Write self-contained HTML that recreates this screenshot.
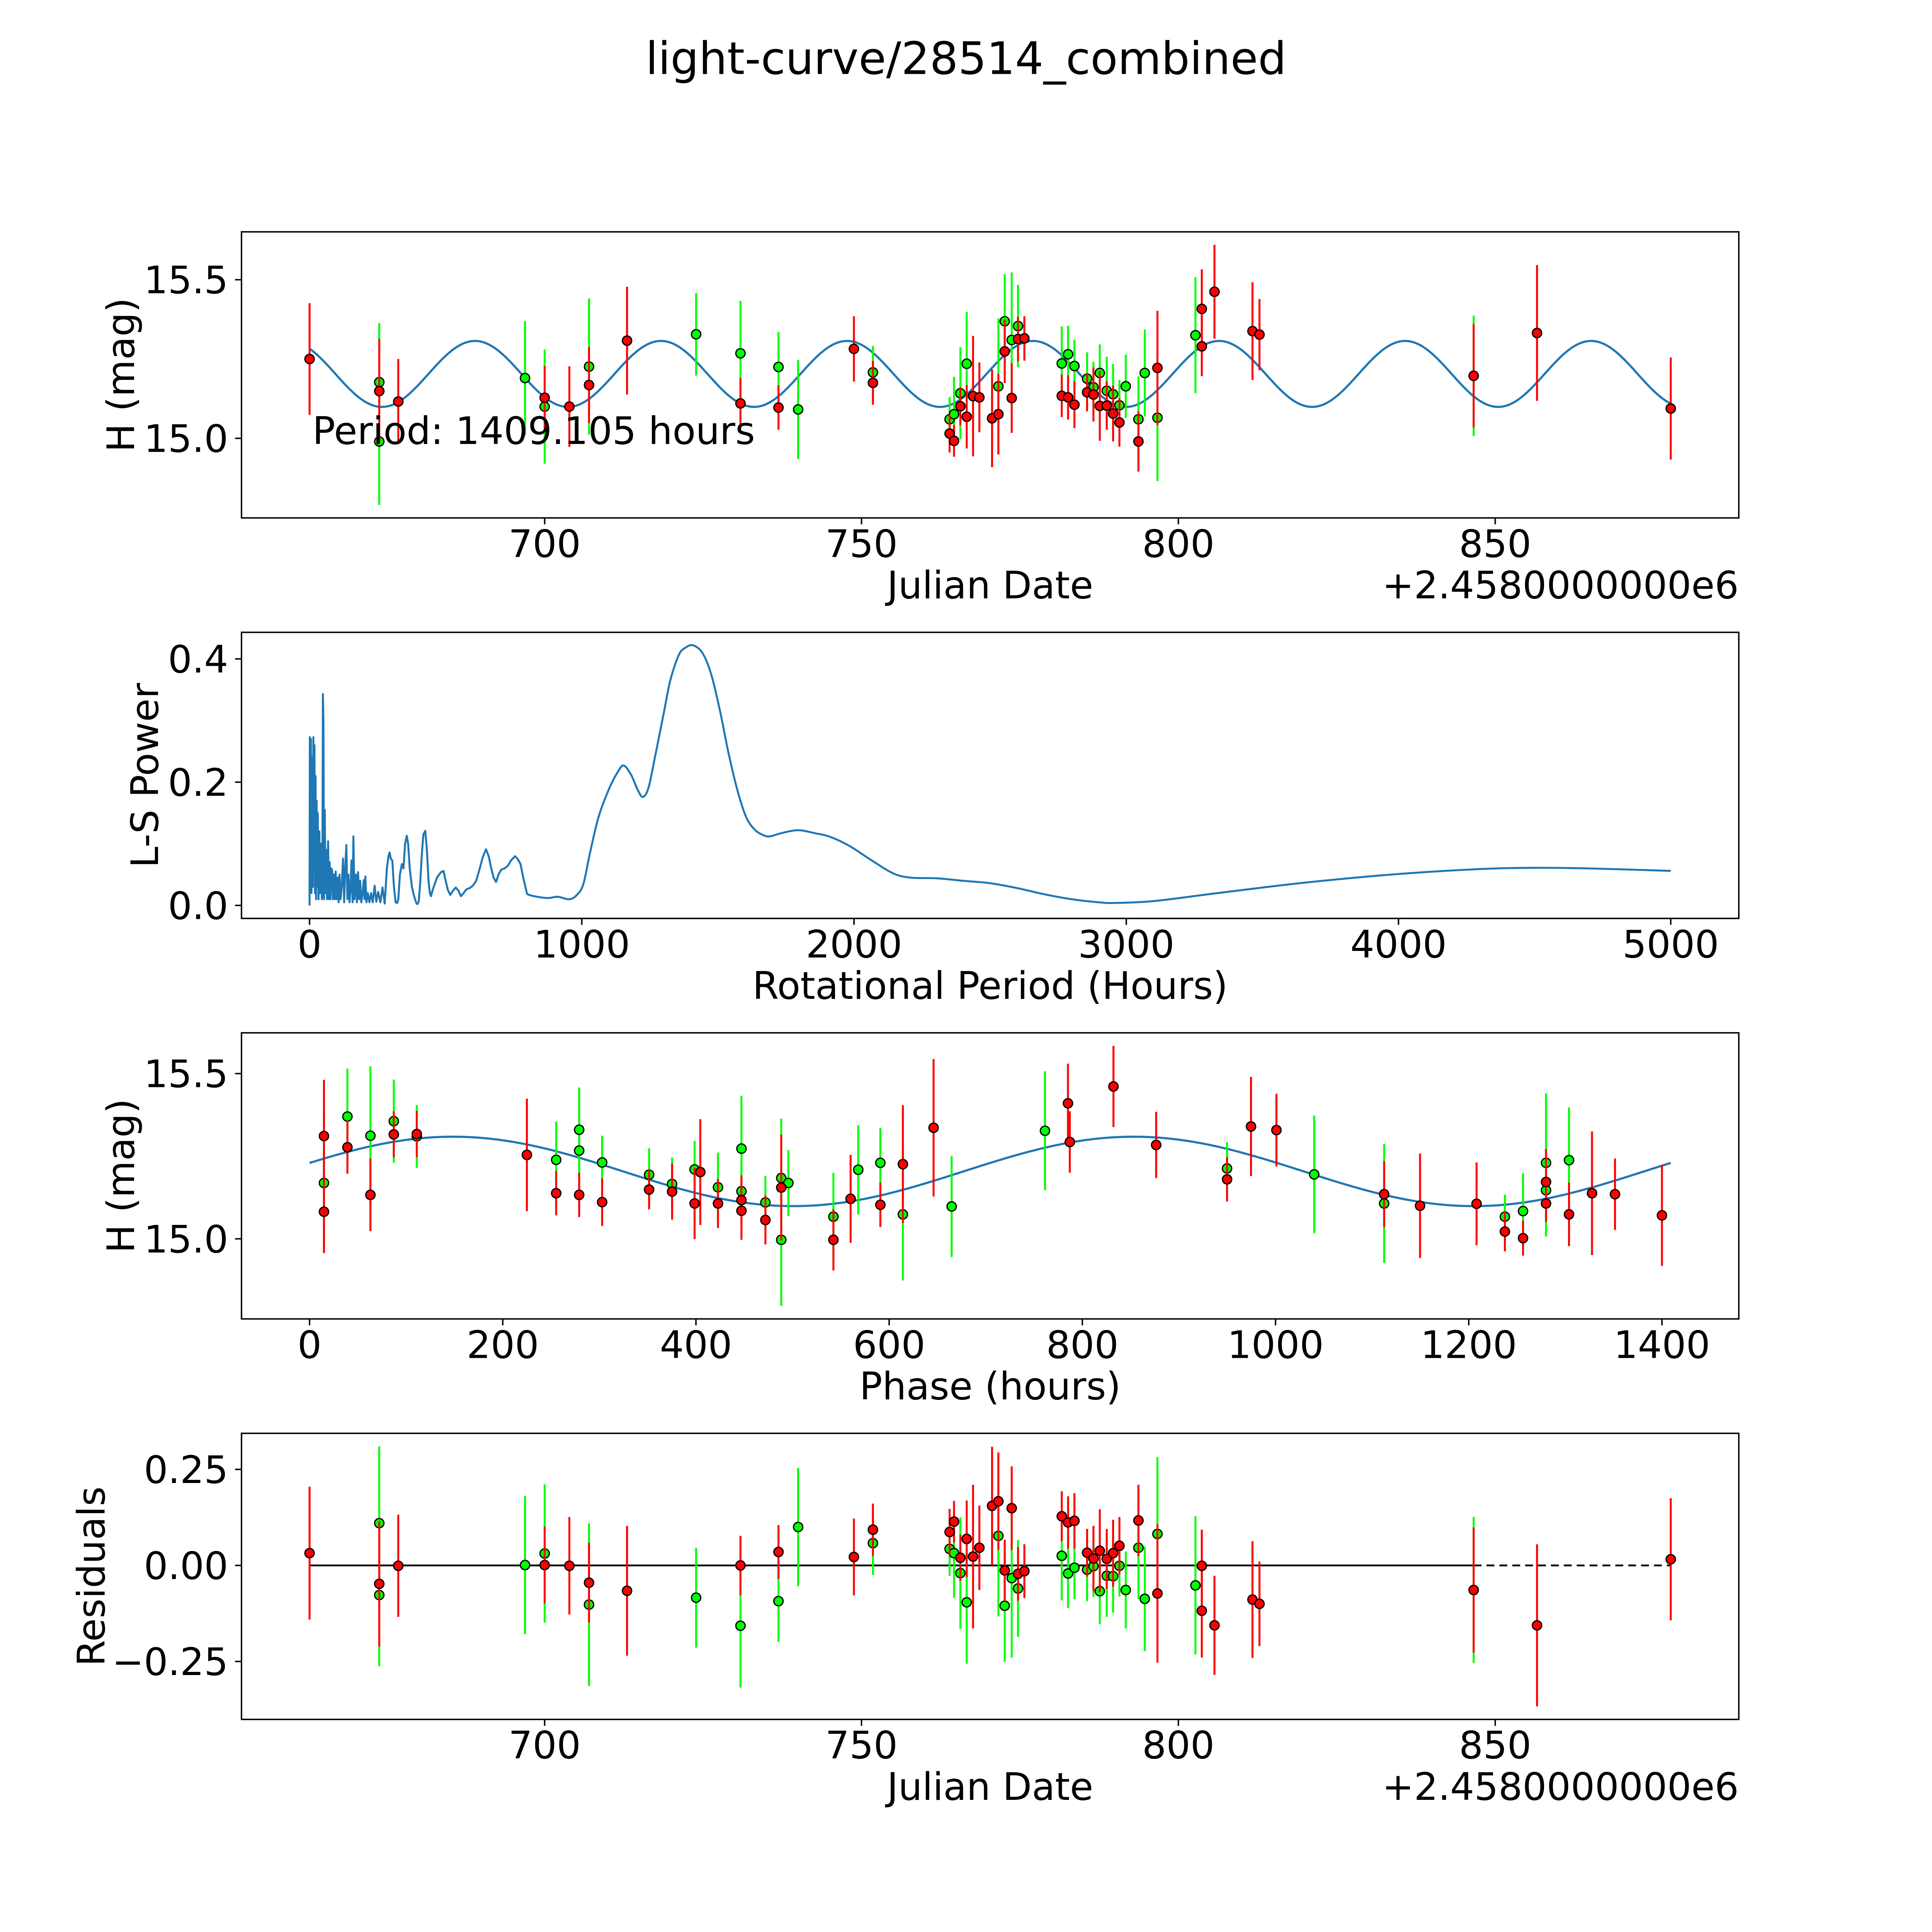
<!DOCTYPE html>
<html><head><meta charset="utf-8"><title>light-curve/28514_combined</title>
<style>
html,body{margin:0;padding:0;background:#fff;overflow:hidden;width:100vw;height:100vh;}
svg{display:block;position:fixed;left:0;top:0;width:100vw;height:100vh;}
text{font-family:"DejaVu Sans","Liberation Sans",sans-serif;fill:#000;}
</style></head>
<body>
<svg id="fig" xmlns="http://www.w3.org/2000/svg" viewBox="0 0 5400 5400" preserveAspectRatio="none">
<rect x="0" y="0" width="5400" height="5400" fill="#fff"/>
<text x="2700" y="207" font-size="125" text-anchor="middle">light-curve/28514_combined</text>
</svg>
<script>
// ---------- observation data (panels 1 & 4) ----------
const obsDate = [662.9,673.9,673.9,673.9,676.9,696.9,700.0,700.0,703.9,707.0,
707.0,713.0,723.9,730.9,730.9,736.9,736.9,740.0,748.8,751.8,
751.8,763.9,763.9,764.6,764.6,765.6,765.6,766.6,766.6,767.6,
768.6,770.6,771.6,771.6,772.6,772.6,773.7,773.7,774.7,774.7,
775.7,781.6,781.6,782.6,782.6,783.6,783.6,785.6,785.6,786.6,
786.6,787.6,787.6,788.7,788.7,789.7,789.7,790.7,790.7,791.7,
793.7,793.7,794.7,796.7,796.7,802.7,803.7,803.7,805.7,811.7,
812.8,846.6,846.6,856.6,877.7];
const obsMag = [15.25,15.177,15.149,14.99,15.116,15.19,15.128,15.10,15.10,15.226,
15.168,15.308,15.328,15.268,15.11,15.225,15.097,15.091,15.282,15.208,
15.175,15.06,15.015,15.076,14.992,15.142,15.101,15.235,15.068,15.133,
15.129,15.063,15.164,15.076,15.369,15.274,15.31,15.127,15.354,15.313,
15.315,15.236,15.134,15.265,15.129,15.228,15.106,15.188,15.145,15.161,
15.138,15.206,15.102,15.15,15.103,15.139,15.078,15.104,15.05,15.164,
15.06,14.99,15.206,15.065,15.222,15.325,15.408,15.29,15.462,15.338,
15.327,15.197,15.197,15.332,15.094];
const obsErr = [0.176,0.186,0.164,0.2,0.134,0.18,0.10,0.18,0.127,0.215,
0.12,0.17,0.13,0.165,0.08,0.11,0.07,0.156,0.103,0.083,
0.069,0.07,0.06,0.118,0.05,0.145,0.06,0.163,0.1,0.19,
0.11,0.154,0.214,0.127,0.148,0.1,0.213,0.11,0.13,0.07,
0.07,0.117,0.067,0.09,0.07,0.083,0.074,0.083,0.06,0.08,
0.085,0.09,0.11,0.107,0.076,0.095,0.088,0.08,0.076,0.1,
0.135,0.095,0.137,0.2,0.18,0.183,0.125,0.094,0.148,0.154,
0.112,0.19,0.163,0.214,0.161];
const obsBand = ["r","g","r","g","r","g","r","g","r","g",
"r","r","g","g","r","g","r","g","r","g",
"r","g","r","g","r","g","r","g","r","r",
"r","r","g","r","g","r","g","r","g","r",
"r","g","r","g","r","g","r","g","r","g",
"r","g","r","g","r","g","r","g","r","g",
"g","r","g","g","r","g","r","r","r","r",
"r","g","r","r","r"];
const residVal = [0.032,0.11,-0.048,-0.077,-0.001,0.001,0.001,0.031,-0.001,-0.102,
-0.045,-0.066,-0.084,-0.157,0.0,-0.093,0.035,0.1,0.022,0.058,
0.093,0.043,0.087,0.032,0.114,-0.02,0.02,-0.096,0.069,0.023,
0.046,0.155,0.077,0.167,-0.105,-0.013,-0.033,0.149,-0.06,-0.022,
-0.015,0.025,0.128,-0.021,0.112,-0.006,0.116,-0.011,0.033,-0.002,
0.018,-0.067,0.038,-0.027,0.017,-0.028,0.032,-0.001,0.051,-0.064,
0.046,0.117,-0.087,0.082,-0.073,-0.052,-0.118,-0.001,-0.156,-0.089,
-0.1,-0.064,-0.064,-0.156,0.016];
const residErr = [0.173,0.2,0.163,0.185,0.133,0.18,0.1,0.18,0.127,0.212,
0.104,0.169,0.13,0.161,0.077,0.106,0.07,0.154,0.1,0.083,
0.068,0.07,0.06,0.116,0.054,0.145,0.06,0.16,0.1,0.187,
0.11,0.154,0.21,0.127,0.146,0.08,0.207,0.109,0.126,0.07,
0.07,0.116,0.065,0.09,0.068,0.082,0.072,0.082,0.062,0.08,
0.085,0.086,0.108,0.107,0.078,0.095,0.087,0.08,0.075,0.1,
0.133,0.093,0.136,0.2,0.18,0.18,0.122,0.094,0.129,0.152,
0.11,0.19,0.163,0.211,0.159];
const residSolidEnd = 846.6;

// ---------- phase-folded data (panel 3) ----------
const phaseHours = [14.9,14.9,14.9,39.2,39.2,63,63,87.2,87.2,111,
111,225,255.3,255.3,279.1,279.1,279.1,302.9,302.9,351.5,
351.5,375.3,375.3,398.6,398.6,404.5,422.8,422.8,447.1,447.1,
447.1,447.1,471.9,471.9,488.3,488.3,488.3,495.7,542.3,542.3,
560.1,568,590.9,590.9,614.2,614.2,646,664.7,761.3,785.1,
787,832.2,876.4,949.8,949.8,974.6,1000.9,1040,1112.4,1112.4,
1149.6,1208.1,1237.4,1237.4,1256.2,1256.2,1280,1280,1280,1280,
1303.8,1303.8,1327.6,1351.4,1400];
const phaseMag = [15.311,15.169,15.082,15.37,15.277,15.312,15.133,15.356,15.316,15.31,
15.317,15.254,15.239,15.138,15.33,15.267,15.133,15.231,15.111,15.194,
15.149,15.166,15.143,15.21,15.107,15.202,15.156,15.107,15.273,15.144,
15.117,15.085,15.11,15.057,15.184,15.155,14.997,15.169,15.067,14.997,
15.121,15.209,15.23,15.103,15.226,15.074,15.336,15.098,15.327,15.41,
15.293,15.461,15.284,15.213,15.18,15.34,15.329,15.195,15.135,15.107,
15.1,15.106,15.067,15.022,15.084,15.002,15.23,15.172,15.147,15.107,
15.238,15.074,15.138,15.135,15.071];
const phaseErr = [0.17,0.21,0.125,0.145,0.08,0.21,0.11,0.126,0.07,0.095,
0.07,0.17,0.116,0.067,0.128,0.09,0.067,0.081,0.072,0.08,
0.06,0.08,0.085,0.086,0.108,0.16,0.105,0.074,0.16,0.09,
0.075,0.088,0.08,0.074,0.18,0.16,0.2,0.1,0.133,0.093,
0.133,0.135,0.106,0.067,0.178,0.2,0.208,0.153,0.18,0.12,
0.093,0.123,0.1,0.08,0.067,0.15,0.11,0.178,0.1,0.18,
0.158,0.125,0.067,0.06,0.115,0.053,0.21,0.1,0.14,0.056,
0.16,0.096,0.187,0.108,0.153];
const phaseBand = ["r","g","r","g","r","g","r","g","r","g",
"r","r","g","r","g","g","r","g","r","g",
"r","g","r","g","r","r","g","r","g","g",
"r","r","g","r","g","r","g","g","g","r",
"r","g","g","r","r","g","r","g","g","r",
"r","r","r","g","r","r","r","g","r","g",
"r","r","g","r","g","r","g","r","g","r",
"g","r","r","r","r"];

// ---------- fitted model parameters ----------
const periodHours = 1409.105;
const fitMean = [15.203, 15.204];
const fitAmp = [0.104, 0.105];
const fitPeakDate = 689.0;
const fitPeakPhase = 148.5;

// ---------- Lomb-Scargle periodogram (panel 2) ----------
const lsPeriod = [0,1,3,5,7,10,12,14,16,18,
20,22,24,26,28,30,33,36,39,42,
45,47,49,51,53,56,58,61,64,68,
71,74,77,80,83,86,90,93,96,100,
104,107,110,114,118,123,127,131,135,139,
143,147,151,154,158,161,165,170,174,178,
182,186,190,195,199,202,205,209,214,220,
226,232,239,245,252,260,268,276,284,290,
294,299,304,310,316,322,326,332,339,345,
351,357,362,368,376,384,392,396,401,407,
412,418,425,431,437,442,446,452,460,468,
476,483,492,500,508,517,527,537,547,556,
566,576,588,600,612,624,636,648,658,667,
676,685,694,704,716,728,740,755,765,775,
785,796,807,871,911,954,982,1006,1030,1062,
1102,1133,1154,1181,1205,1224,1245,1269,1301,1325,
1356,1380,1409,1444,1476,1508,1539,1571,1603,1635,
1667,1691,1731,1794,1858,1914,1985,2065,2144,2208,
2304,2399,2500,2600,2700,2800,2900,2960,3100,3300,
3500,3700,4000,4300,4500,4700,5000];
const lsPower = [0,0.273,0.05,0.27,0.02,0.24,0.03,0.273,0.10,0.26,
0.02,0.21,0.01,0.17,0.03,0.15,0.01,0.12,0.02,0.10,
0.01,0.02,0.343,0.30,0.01,0.155,0.02,0.09,0.01,0.104,
0.01,0.07,0.01,0.06,0.057,0.01,0.05,0.01,0.055,0.01,
0.045,0.005,0.05,0.01,0.03,0.076,0.005,0.06,0.098,0.01,
0.05,0.005,0.03,0.073,0.005,0.112,0.01,0.05,0.005,0.054,
0.01,0.04,0.005,0.02,0.041,0.01,0.047,0.005,0.02,0.005,
0.02,0.005,0.032,0.006,0.022,0.005,0.029,0.003,0.06,0.08,
0.086,0.075,0.073,0.03,0.005,0.004,0.01,0.05,0.067,0.06,
0.10,0.113,0.10,0.06,0.03,0.015,0.004,0.002,0.006,0.04,
0.08,0.115,0.121,0.09,0.04,0.02,0.015,0.025,0.035,0.045,
0.05,0.054,0.056,0.04,0.025,0.017,0.024,0.029,0.024,0.015,
0.02,0.026,0.028,0.032,0.04,0.058,0.078,0.091,0.08,0.061,
0.045,0.038,0.05,0.058,0.06,0.064,0.073,0.08,0.075,0.067,
0.045,0.024,0.017,0.012,0.014,0.010,0.017,0.035,0.085,0.144,
0.191,0.217,0.227,0.212,0.188,0.176,0.191,0.241,0.312,0.365,
0.406,0.418,0.422,0.409,0.374,0.315,0.247,0.188,0.144,0.123,
0.114,0.112,0.117,0.122,0.117,0.111,0.096,0.073,0.052,0.045,
0.044,0.040,0.036,0.028,0.018,0.010,0.005,0.004,0.007,0.018,
0.029,0.039,0.051,0.059,0.061,0.060,0.056];

// ---------- tick labels ----------
const dateTicks = [700,750,800,850];
const magTicks = [15.0,15.5];
const magTickLabels = ["15.0","15.5"];
const lsXTicks = [0,1000,2000,3000,4000,5000];
const lsYTicks = [0.0,0.2,0.4];
const lsYTickLabels = ["0.0","0.2","0.4"];
const phaseTicks = [0,200,400,600,800,1000,1200,1400];
const residTicks = [-0.25,0.0,0.25];
const residTickLabels = ["\u22120.25","0.00","0.25"];

// ---------- rendering ----------
const NS = "http://www.w3.org/2000/svg";
const svg = document.getElementById("fig");
const AX_L = 675, AX_R = 4860, AX_H = 799.6;
const AX_TOPS = [648, 1767.4, 2886.8, 4006.2];
const FS = 106;
const BLUE = "#1f77b4";
const BANDCOL = {g:"#00ff00", r:"#ff0000"};
const SMOOTH_FROM = 796;

function mk(tag, attrs, parent){
  const e = document.createElementNS(NS, tag);
  for (const k in attrs) e.setAttribute(k, attrs[k]);
  (parent||svg).appendChild(e);
  return e;
}
function pad(lo, hi){ const m=(hi-lo)*0.05; return [lo-m, hi+m]; }
function scale(d0,d1,r0,r1){ return v => r0 + (v-d0)/(d1-d0)*(r1-r0); }

function makeAxes(idx, xlim, ylim, name){
  const top = AX_TOPS[idx], bot = top + AX_H;
  const g = mk("g", {});
  
  
  const cid = "clip"+idx;
  const cp = mk("clipPath", {id:cid}, g);
  mk("rect", {x:AX_L, y:top, width:AX_R-AX_L, height:AX_H}, cp);
  const plot = mk("g", {"clip-path":"url(#"+cid+")"}, g);
  
  
  return {g, plot, top, bot,
    x: scale(xlim[0], xlim[1], AX_L, AX_R),
    y: scale(ylim[0], ylim[1], bot, top)};
}

function finishAxes(ax, xt, xtl, yt, ytl, xlabel, ylabel, ylabelX, prefix){
  const fr = mk("rect", {x:AX_L, y:ax.top, width:AX_R-AX_L, height:AX_H, fill:"none", stroke:"#000", "stroke-width":4}, ax.g);
  
  
  xt.forEach((v,i)=>{
    const px = ax.x(v);
    const t = mk("line", {x1:px, x2:px, y1:ax.bot, y2:ax.bot+18, stroke:"#000", "stroke-width":4}, ax.g);
    
    
    const lb = mk("text", {x:px, y:ax.bot+109, "font-size":FS, "text-anchor":"middle"}, ax.g);
    
    
    lb.textContent = xtl[i];
  });
  yt.forEach((v,i)=>{
    const py = ax.y(v);
    const t = mk("line", {x1:AX_L-18, x2:AX_L, y1:py, y2:py, stroke:"#000", "stroke-width":4}, ax.g);
    
    
    const lb = mk("text", {x:AX_L-37, y:py+38, "font-size":FS, "text-anchor":"end"}, ax.g);
    
    
    lb.textContent = ytl[i];
  });
  const xl = mk("text", {x:(AX_L+AX_R)/2, y:ax.bot+225, "font-size":FS, "text-anchor":"middle"}, ax.g);
  
  
  xl.textContent = xlabel;
  const cy = ax.top + AX_H/2;
  const yl = mk("text", {x:ylabelX, y:cy, "font-size":FS, "text-anchor":"middle", transform:"rotate(-90 "+ylabelX+" "+cy+")"}, ax.g);
  
  
  yl.textContent = ylabel;
}

function drawPoints(ax, xs, ys, es, bands, prefix){
  ["g","r"].forEach(b=>{
    const grp = mk("g", {}, ax.plot);
    
    
    for (let i=0;i<xs.length;i++){
      if (bands[i]!==b) continue;
      const px = ax.x(xs[i]);
      const eb = mk("line", {x1:px, x2:px, y1:ax.y(ys[i]-es[i]), y2:ax.y(ys[i]+es[i]), stroke:BANDCOL[b], "stroke-width":5.5}, grp);
      
      
    }
    for (let i=0;i<xs.length;i++){
      if (bands[i]!==b) continue;
      const pt = mk("circle", {cx:ax.x(xs[i]), cy:ax.y(ys[i]), r:13, fill:BANDCOL[b], stroke:"#000", "stroke-width":3.5}, grp);
      
      
    }
  });
}

function curvePath(ax, x0, x1, fn, n){
  let d = "";
  for (let i=0;i<=n;i++){
    const v = x0 + (x1-x0)*i/n;
    d += (i?"L":"M") + ax.x(v).toFixed(1) + "," + ax.y(fn(v)).toFixed(1);
  }
  return d;
}

function fmtTick(v){ return String(v); }

// ----- Panel 1: light curve vs date -----
const dMin = Math.min(...obsDate), dMax = Math.max(...obsDate);
const dateLim = pad(dMin, dMax);
const magLo = Math.min(...obsMag.map((m,i)=>m-obsErr[i]));
const magHi = Math.max(...obsMag.map((m,i)=>m+obsErr[i]));
const ax1 = makeAxes(0, dateLim, pad(magLo, magHi), "lightcurve-panel");
const halfDays = periodHours/24/2;
const model1 = d => fitMean[0] + fitAmp[0]*Math.cos(2*Math.PI*(d-fitPeakDate)/halfDays);
const c1 = mk("path", {d:curvePath(ax1, dMin, dMax, model1, 900), fill:"none", stroke:BLUE, "stroke-width":6}, ax1.plot);


drawPoints(ax1, obsDate, obsMag, obsErr, obsBand, 'lightcurve');
const ann = mk("text", {x:ax1.x(dMin)+8, y:ax1.y(14.99)+ (ax1.y(14.95)-ax1.y(14.99))*0.2, "font-size":FS}, ax1.g);


ann.textContent = "Period: " + periodHours.toFixed(3) + " hours";
finishAxes(ax1, dateTicks, dateTicks.map(fmtTick), magTicks, magTickLabels, "Julian Date", "H (mag)", 375, 'lightcurve');
const off1 = mk("text", {x:AX_R, y:ax1.bot+225, "font-size":FS, "text-anchor":"end"}, ax1.g);


off1.textContent = "+2.4580000000e6";

// ----- Panel 2: periodogram -----
const ax2 = makeAxes(1, pad(Math.min(...lsPeriod), Math.max(...lsPeriod)), pad(0, Math.max(...lsPower)), "periodogram-panel");
const lsPts = lsPeriod.map((p,i)=>[ax2.x(p), ax2.y(lsPower[i])]);
let d2 = "M" + lsPts[0][0].toFixed(1) + "," + lsPts[0][1].toFixed(1);
for (let i=1;i<lsPts.length;i++){
  const p1 = lsPts[i-1], p2 = lsPts[i];
  if (lsPeriod[i-1] >= SMOOTH_FROM){
    const p0 = lsPts[Math.max(0,i-2)], p3 = lsPts[Math.min(lsPts.length-1,i+1)];
    const c1x = p1[0]+(p2[0]-p0[0])/6, c1y = p1[1]+(p2[1]-p0[1])/6;
    const c2x = p2[0]-(p3[0]-p1[0])/6, c2y = p2[1]-(p3[1]-p1[1])/6;
    d2 += "C"+c1x.toFixed(1)+","+c1y.toFixed(1)+" "+c2x.toFixed(1)+","+c2y.toFixed(1)+" "+p2[0].toFixed(1)+","+p2[1].toFixed(1);
  } else {
    d2 += "L" + p2[0].toFixed(1) + "," + p2[1].toFixed(1);
  }
}
const c2 = mk("path", {d:d2, fill:"none", stroke:BLUE, "stroke-width":5.5, "stroke-linejoin":"round"}, ax2.plot);


finishAxes(ax2, lsXTicks, lsXTicks.map(fmtTick), lsYTicks, lsYTickLabels, "Rotational Period (Hours)", "L-S Power", 442, 'periodogram');

// ----- Panel 3: phase-folded -----
const pLo = Math.min(...phaseMag.map((m,i)=>m-phaseErr[i]));
const pHi = Math.max(...phaseMag.map((m,i)=>m+phaseErr[i]));
const ax3 = makeAxes(2, pad(0, periodHours), pad(pLo, pHi), "phase-panel");
const model3 = ph => fitMean[1] + fitAmp[1]*Math.cos(2*Math.PI*(ph-fitPeakPhase)/(periodHours/2));
const c3 = mk("path", {d:curvePath(ax3, 0, periodHours, model3, 600), fill:"none", stroke:BLUE, "stroke-width":6}, ax3.plot);


drawPoints(ax3, phaseHours, phaseMag, phaseErr, phaseBand, 'phase');
finishAxes(ax3, phaseTicks, phaseTicks.map(fmtTick), magTicks, magTickLabels, "Phase (hours)", "H (mag)", 375, 'phase');

// ----- Panel 4: residuals -----
const rLo = Math.min(...residVal.map((m,i)=>m-residErr[i]));
const rHi = Math.max(...residVal.map((m,i)=>m+residErr[i]));
const ax4 = makeAxes(3, dateLim, pad(rLo, rHi), "residuals-panel");
const z1 = mk("line", {x1:ax4.x(dMin), x2:ax4.x(residSolidEnd), y1:ax4.y(0), y2:ax4.y(0), stroke:"#000", "stroke-width":5}, ax4.plot);


const z2 = mk("line", {x1:ax4.x(residSolidEnd), x2:ax4.x(dMax), y1:ax4.y(0), y2:ax4.y(0), stroke:"#000", "stroke-width":5, "stroke-dasharray":"22,14"}, ax4.plot);


drawPoints(ax4, obsDate, residVal, residErr, obsBand, 'residual');
finishAxes(ax4, dateTicks, dateTicks.map(fmtTick), residTicks, residTickLabels, "Julian Date", "Residuals", 292, 'residual');
const off4 = mk("text", {x:AX_R, y:ax4.bot+225, "font-size":FS, "text-anchor":"end"}, ax4.g);


off4.textContent = "+2.4580000000e6";
</script>
</body></html>
